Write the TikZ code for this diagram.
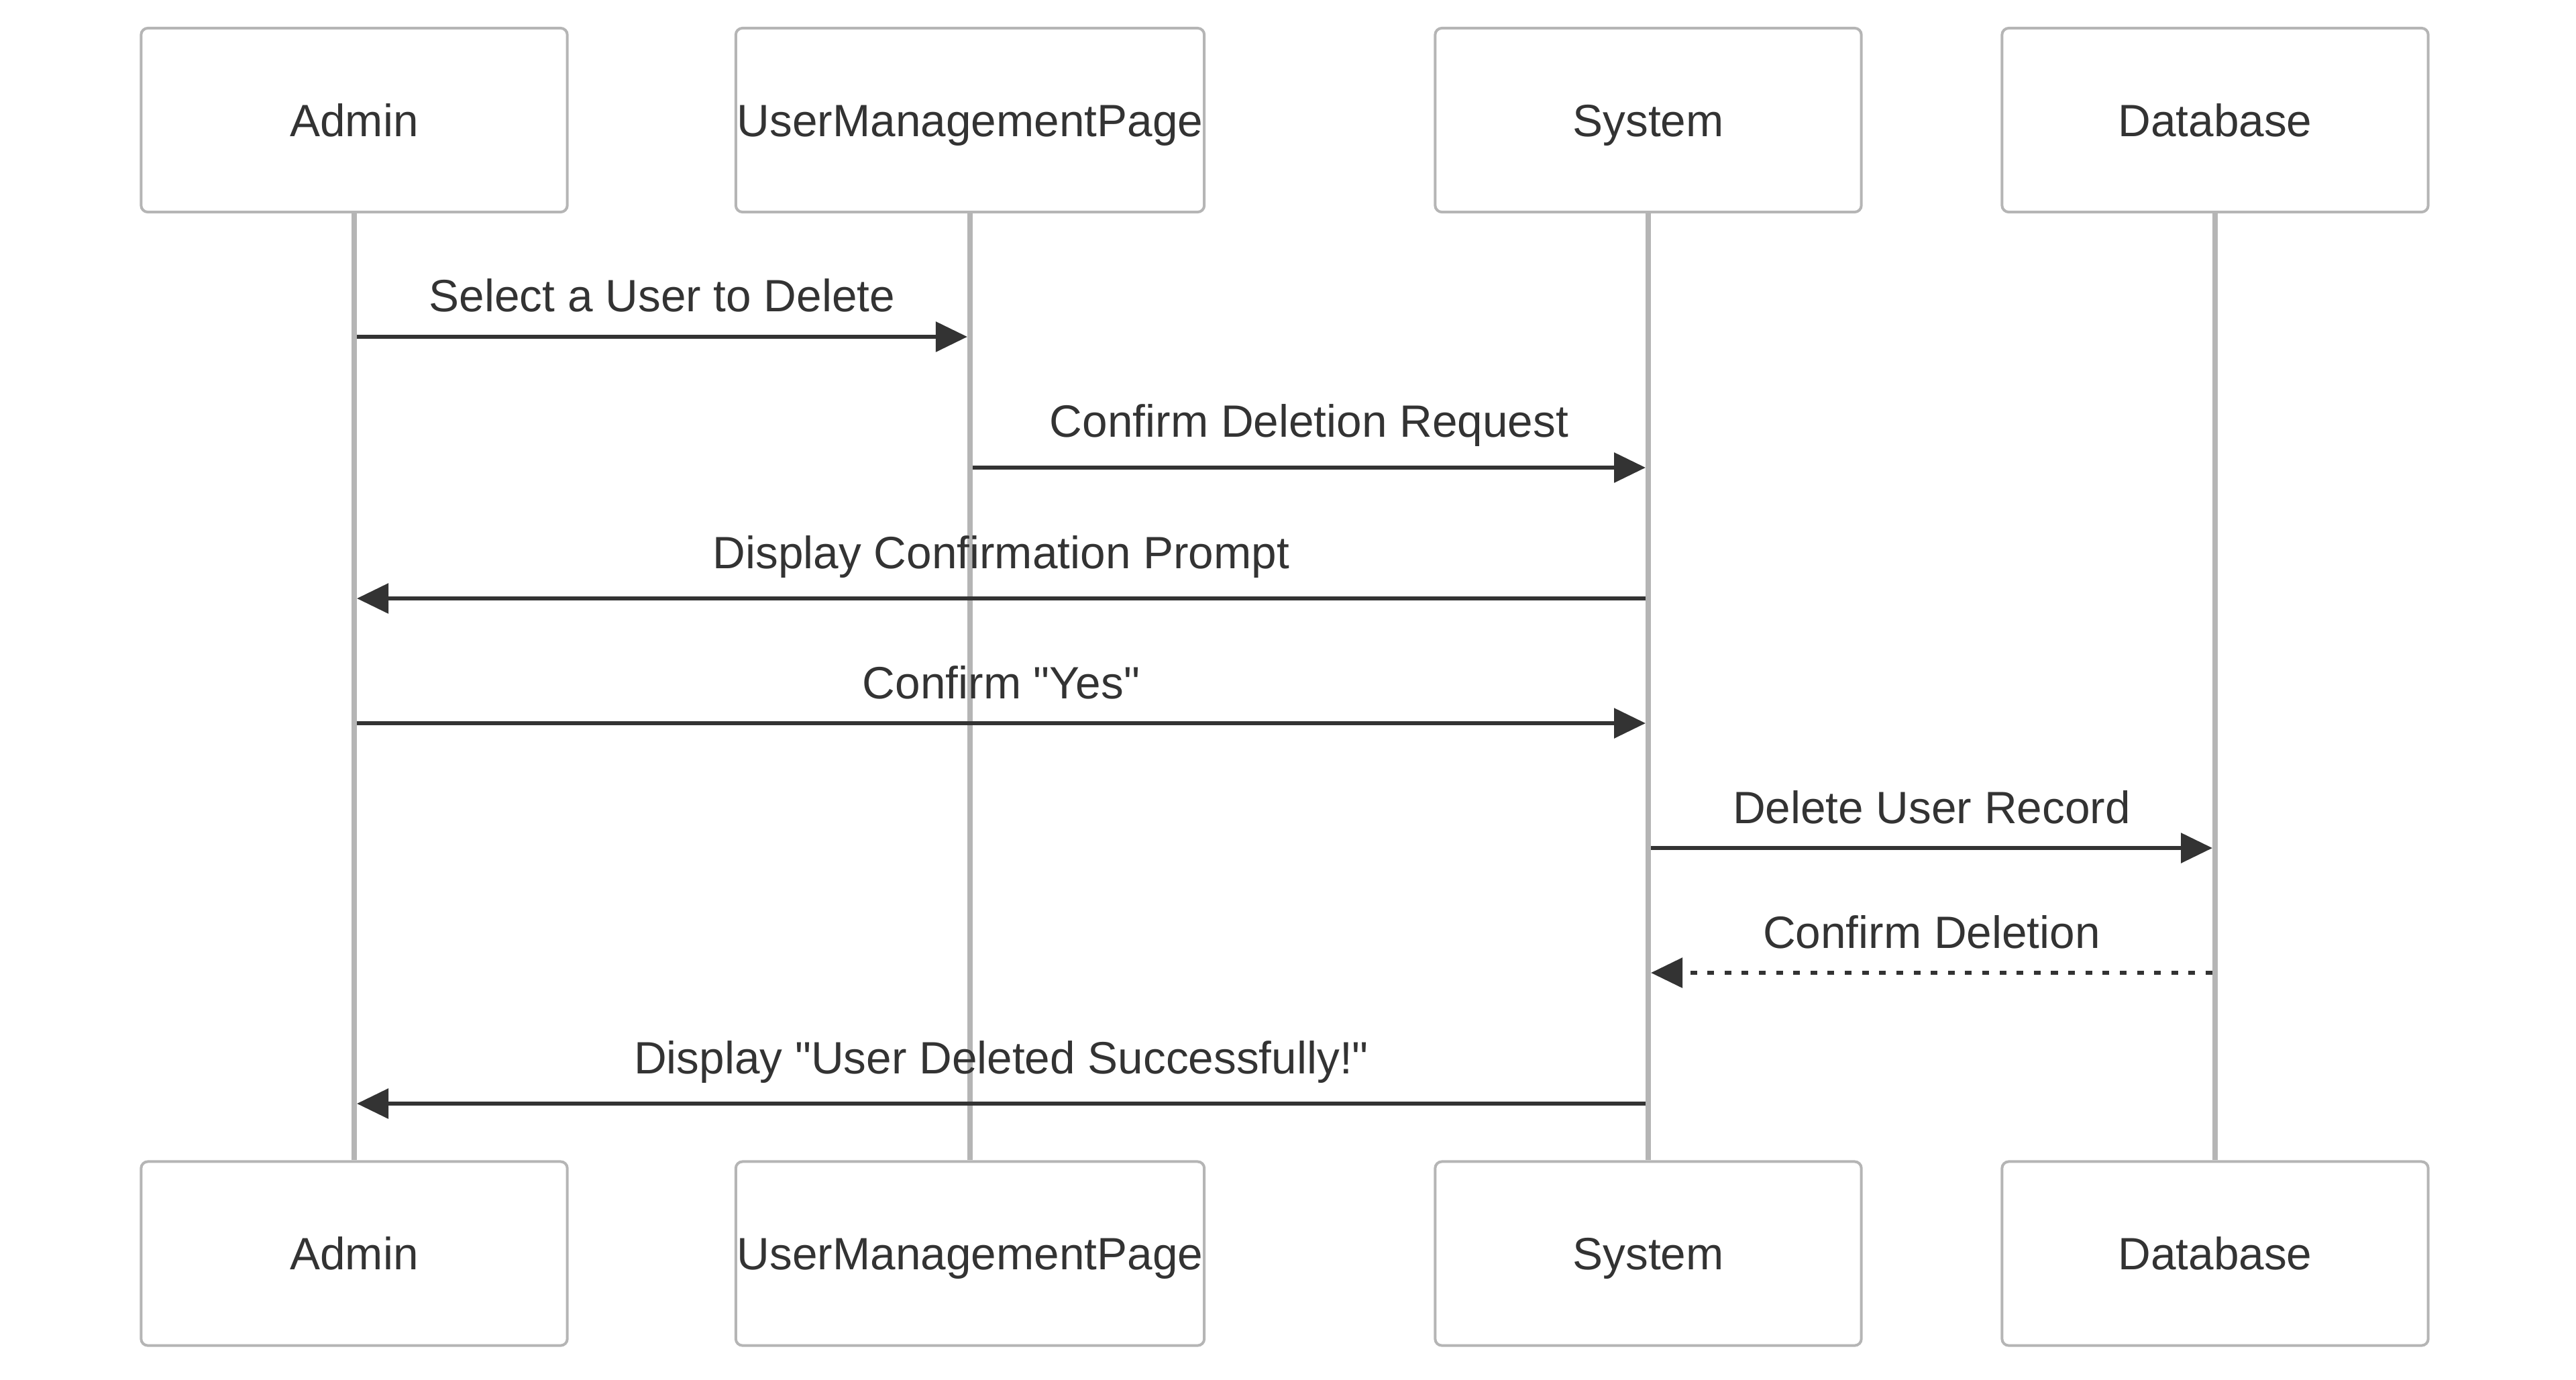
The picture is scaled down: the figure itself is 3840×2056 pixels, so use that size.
\documentclass[tikz,border=0pt]{standalone}
\usepackage{fontspec}
\setmainfont{Liberation Sans}
\usetikzlibrary{arrows.meta}
\definecolor{linegray}{RGB}{181,181,181}
\definecolor{ink}{RGB}{51,51,51}
\tikzset{
  actor/.style={draw=linegray, line width=0.04cm, rounded corners=0.1cm, fill=white,
    minimum width=6.35cm, minimum height=2.74cm, inner sep=0pt,
    text=ink, font=\fontsize{19.2pt}{23pt}\selectfont, text height=13.75pt, text depth=0pt},
  wideactor/.style={actor, minimum width=6.98cm},
  lifeline/.style={draw=linegray, line width=0.08cm},
  msg/.style={draw=ink, line width=0.06cm, shorten <=0.04cm, shorten >=0.04cm,
    -{Triangle[length=0.47cm, width=0.44cm]}},
  reply/.style={msg, dash pattern=on 0.1cm off 0.156cm},
  lbl/.style={anchor=base, yshift=0.37cm, text=ink, inner sep=0pt,
    font=\fontsize{19.2pt}{23pt}\selectfont},
  lblhigh/.style={lbl, yshift=0.08cm}
}
\begin{document}
\begin{tikzpicture}[x=0.01cm, y=-0.01cm]
\useasboundingbox (0,0) rectangle (3840,2056);
% top actors
\node[actor] (aT) at (528,179) {Admin};
\node[wideactor] (uT) at (1446,179) {UserManagementPage};
\node[actor] (sT) at (2457,179) {System};
\node[actor] (dT) at (3302,179) {Database};
% bottom actors
\node[actor] (aB) at (528,1868.5) {Admin};
\node[wideactor] (uB) at (1446,1868.5) {UserManagementPage};
\node[actor] (sB) at (2457,1868.5) {System};
\node[actor] (dB) at (3302,1868.5) {Database};
% lifelines
\draw[lifeline] (aT.south) -- (aB.north);
\draw[lifeline] (uT.south) -- (uB.north);
\draw[lifeline] (sT.south) -- (sB.north);
\draw[lifeline] (dT.south) -- (dB.north);
% message rows
\coordinate (r1) at (0,502);
\coordinate (r2) at (0,697);
\coordinate (r3) at (0,892);
\coordinate (r4) at (0,1078);
\coordinate (r5) at (0,1264);
\coordinate (r6) at (0,1450);
\coordinate (r7) at (0,1645);
\draw[msg] (aT |- r1) -- node[lbl]{Select a User to Delete} (uT |- r1);
\draw[msg] (uT |- r2) -- node[lblhigh]{Confirm Deletion Request} (sT |- r2);
\draw[msg] (sT |- r3) -- node[lblhigh]{Display Confirmation Prompt} (aT |- r3);
\draw[msg] (aT |- r4) -- node[lbl]{Confirm \textquotedbl Yes\textquotedbl} (sT |- r4);
\draw[msg] (sT |- r5) -- node[lbl]{Delete User Record} (dT |- r5);
\draw[reply] (dT |- r6) -- node[lbl]{Confirm Deletion} (sT |- r6);
\draw[msg] (sT |- r7) -- node[lblhigh]{Display \textquotedbl User Deleted Successfully!\textquotedbl} (aT |- r7);
\end{tikzpicture}
\end{document}
